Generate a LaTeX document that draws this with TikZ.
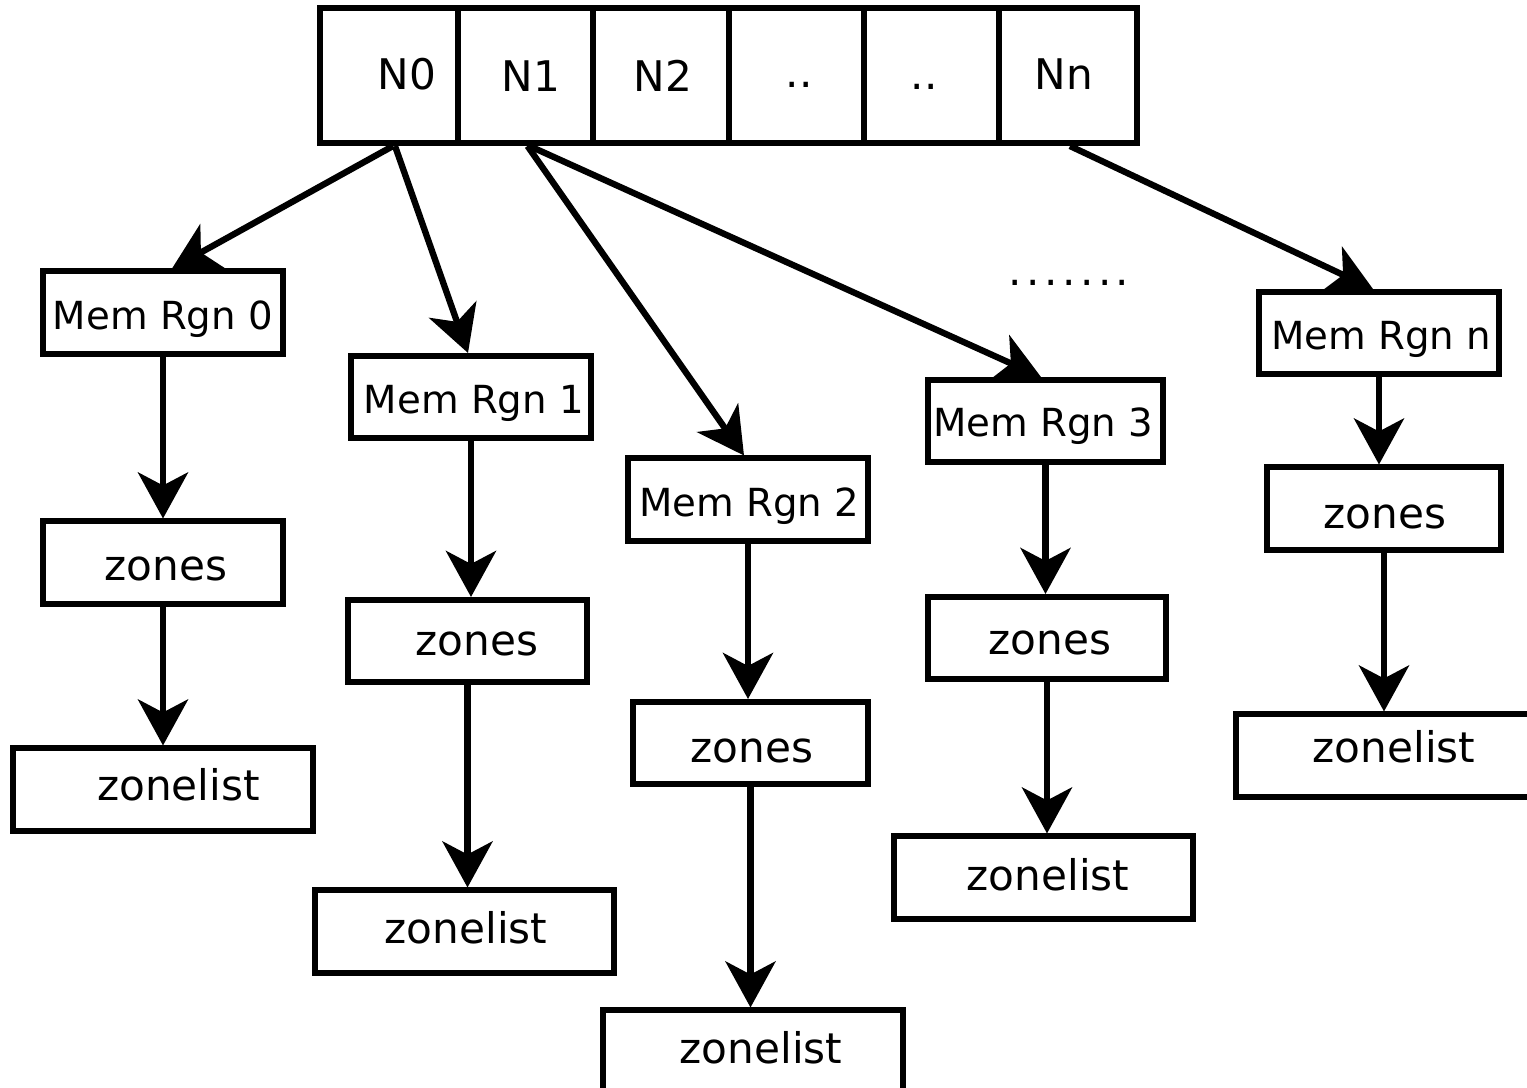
\documentclass[tikz,border=0pt]{standalone}
\usepackage{fontspec}
\setmainfont{DejaVu Sans}
\usetikzlibrary{arrows.meta}

\begin{document}
\begin{tikzpicture}[x=0.01cm,y=-0.01cm,
  cell/.style={draw, line width=1.7pt, inner sep=0, minimum height=1.35cm},
  box/.style={draw, line width=1.7pt, inner sep=0, minimum height=0.82cm},
  rgn/.style={box, minimum width=2.39cm},
  zbox/.style={box, minimum width=2.37cm},
  lbox/.style={box, minimum width=3.0cm},
  txt/.style={anchor=base, inner sep=0, font=\fontsize{12}{14}\selectfont},
  rtxt/.style={anchor=base, inner sep=0, font=\fontsize{11}{13}\selectfont},
  arr/.style={line width=1.8pt, -{Stealth[length=0.46cm,width=0.5cm,inset=0.13cm]}}]

\useasboundingbox (0,0) rectangle (1527,1088);

% node array
\node[cell, minimum width=1.38cm] (c0) at (389,75.5) {};
\node[cell, minimum width=1.35cm] (c1) at (525.5,75.5) {};
\node[cell, minimum width=1.36cm] (c2) at (661,75.5) {};
\node[cell, minimum width=1.35cm] (c3) at (796.5,75.5) {};
\node[cell, minimum width=1.35cm] (c4) at (931.5,75.5) {};
\node[cell, minimum width=1.38cm] (c5) at (1068,75.5) {};
\node[txt] (n0) at (407,90) {N0};
\node[txt] (n1) at (531,92) {N1};
\node[txt] (n2) at (663,92) {N2};
\node[txt] (n3) at (799,88) {..};
\node[txt] (n4) at (924,90) {..};
\node[txt] (n5) at (1064,90) {Nn};

% memory regions
\node[rgn] (m0) at (163,312.5) {};
\node[rgn] (m1) at (471,397) {};
\node[rgn] (m2) at (748,499.5) {};
\node[rgn, minimum width=2.35cm] (m3) at (1045.5,421) {};
\node[rgn, minimum width=2.40cm] (mn) at (1379,333) {};
\node[rtxt] (tm0) at (163,330) {Mem Rgn 0};
\node[rtxt] (tm1) at (474,413) {Mem Rgn 1};
\node[rtxt] (tm2) at (749,516) {Mem Rgn 2};
\node[rtxt] (tm3) at (1043,436) {Mem Rgn 3};
\node[rtxt] (tmn) at (1381,350) {Mem Rgn n};

% zones
\node[zbox, minimum width=2.40cm] (z0) at (163,562.5) {};
\node[zbox, minimum width=2.39cm] (z1) at (467.5,641) {};
\node[zbox, minimum width=2.35cm] (z2) at (750.5,743) {};
\node[zbox, minimum width=2.38cm] (z3) at (1047,638) {};
\node[zbox, minimum width=2.34cm] (zn) at (1384,508.5) {};
\node[txt] (tz0) at (166,580) {zones};
\node[txt] (tz1) at (477,655) {zones};
\node[txt] (tz2) at (752,762) {zones};
\node[txt] (tz3) at (1050,654) {zones};
\node[txt] (tzn) at (1385,528) {zones};

% zone lists
\node[lbox] (l0) at (163,789.5) {};
\node[lbox, minimum width=2.99cm] (l1) at (464.5,931.5) {};
\node[lbox] (l2) at (753,1051.5) {};
\node[lbox, minimum width=2.99cm] (l3) at (1043.5,877.5) {};
\node[lbox] (ln) at (1386,755.5) {};
\node[txt] (tl0) at (178.5,800) {zonelist};
\node[txt] (tl1) at (466,943) {zonelist};
\node[txt] (tl2) at (761,1063) {zonelist};
\node[txt] (tl3) at (1048,890) {zonelist};
\node[txt] (tln) at (1394,762) {zonelist};

% more regions
\node[anchor=base, inner sep=0, font=\fontsize{12}{14}\selectfont\addfontfeature{LetterSpace=10.5}] (more) at (1069,285) {.......};

% node to region links
\draw[arr] ([xshift=0.04cm]c0.south) -- ([xshift=0.09cm]m0.north);
\draw[arr] ([xshift=0.06cm]c0.south) -- ([xshift=-0.03cm]m1.north);
\draw[arr] ([xshift=0.02cm]c1.south) -- ([xshift=-0.04cm]m2.north);
\draw[arr] ([xshift=0.04cm]c1.south) -- ([xshift=-0.045cm]m3.north);
\draw[arr] ([xshift=0.02cm]c5.south) -- ([xshift=-0.06cm]mn.north);

% region chains
\foreach \r/\z/\l in {m0/z0/l0, m1/z1/l1, m2/z2/l2, m3/z3/l3, mn/zn/ln}{
  \draw[arr] (\r.south) -- (\r.south |- \z.north);
  \draw[arr] (\z.south) -- (\z.south |- \l.north);
}
\end{tikzpicture}
\end{document}
